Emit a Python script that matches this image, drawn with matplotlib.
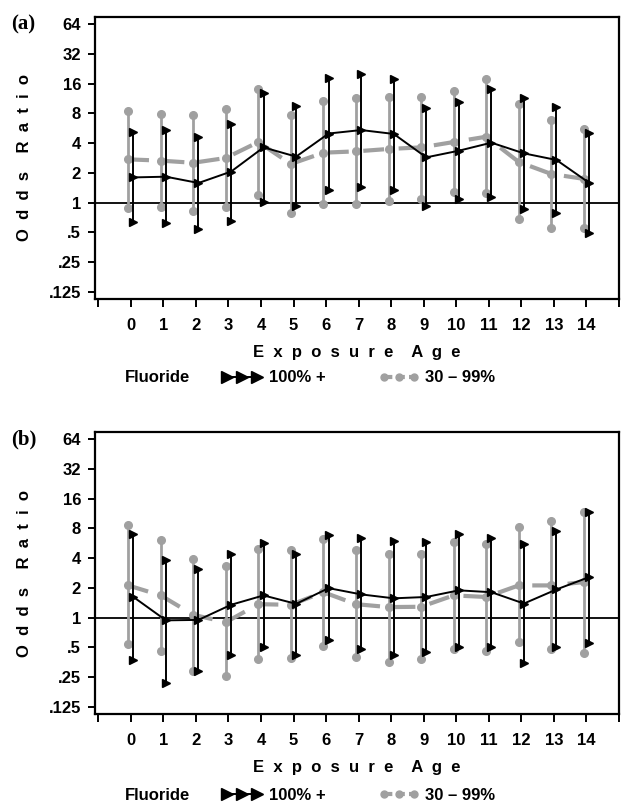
import numpy as np
import matplotlib.pyplot as plt
from matplotlib.lines import Line2D

plt.rcParams['font.family'] = ['Liberation Sans', 'DejaVu Sans']

ages = list(range(15))
ytick_vals = [0.125, 0.25, 0.5, 1, 2, 4, 8, 16, 32, 64]
ytick_labels = ['.125', '.25', '.5', '1', '2', '4', '8', '16', '32', '64']

# panel (a): 100%+ fluoride (black) and 30-99% (gray)
a_hi_or = [1.80, 1.83, 1.58, 2.06, 3.62, 2.92, 5.0, 5.42, 4.95, 2.87, 3.35, 4.04, 3.15, 2.7, 1.59]
a_hi_lo = [0.63, 0.62, 0.54, 0.66, 1.02, 0.92, 1.35, 1.45, 1.35, 0.93, 1.08, 1.13, 0.86, 0.79, 0.49]
a_hi_up = [5.2, 5.4, 4.64, 6.24, 12.9, 9.55, 18.2, 20.2, 17.6, 9.05, 10.3, 14.1, 11.4, 9.2, 5.1]
a_mid_or = [2.74, 2.66, 2.53, 2.83, 4.1, 2.46, 3.2, 3.3, 3.49, 3.62, 4.1, 4.64, 2.58, 1.95, 1.74]
a_mid_lo = [0.88, 0.9, 0.82, 0.9, 1.2, 0.79, 0.97, 0.97, 1.05, 1.08, 1.27, 1.26, 0.68, 0.56, 0.56]
a_mid_up = [8.5, 7.8, 7.7, 8.76, 14.2, 7.7, 10.7, 11.4, 11.8, 11.7, 13.5, 17.6, 9.9, 6.9, 5.55]

# panel (b)
b_hi_or = [1.62, 0.94, 0.95, 1.35, 1.68, 1.38, 1.99, 1.72, 1.57, 1.62, 1.89, 1.81, 1.39, 1.93, 2.57]
b_hi_lo = [0.37, 0.22, 0.29, 0.42, 0.50, 0.42, 0.59, 0.48, 0.42, 0.45, 0.50, 0.50, 0.35, 0.50, 0.56]
b_hi_up = [6.95, 3.8, 3.12, 4.43, 5.67, 4.43, 6.8, 6.43, 5.9, 5.8, 7.0, 6.43, 5.6, 7.5, 11.7]
b_mid_or = [2.12, 1.68, 1.07, 0.9, 1.37, 1.35, 1.81, 1.37, 1.28, 1.29, 1.68, 1.62, 2.12, 2.12, 2.29]
b_mid_lo = [0.54, 0.46, 0.29, 0.26, 0.38, 0.39, 0.52, 0.40, 0.36, 0.38, 0.48, 0.46, 0.57, 0.48, 0.44]
b_mid_up = [8.6, 6.1, 3.88, 3.32, 4.97, 4.82, 6.3, 4.78, 4.43, 4.43, 5.76, 5.54, 8.2, 9.4, 11.7]

GRAY = '#a0a0a0'


def spaced(text):
    # wide letter spacing like the original axis titles
    return '    '.join('  '.join(w) for w in text.split())


def draw_panel(ax, hi_or, hi_lo, hi_up, mid_or, mid_lo, mid_up):
    x = np.array(ages, dtype=float)
    xg = x - 0.08
    xb = x + 0.08
    ax.axhline(1, color='black', lw=1.3, zorder=1)
    # gray series
    ax.vlines(xg, mid_lo, mid_up, color=GRAY, lw=2, zorder=2)
    ax.plot(xg, mid_lo, 'o', color=GRAY, ms=5.5, zorder=3)
    ax.plot(xg, mid_up, 'o', color=GRAY, ms=5.5, zorder=3)
    ax.plot(xg, mid_or, '--o', color=GRAY, lw=3, ms=5.5, dashes=(5, 3.5), zorder=3)
    # black series
    ax.vlines(xb, hi_lo, hi_up, color='black', lw=1.4, zorder=4)
    ax.plot(xb, hi_lo, '>', color='black', ms=6, zorder=5)
    ax.plot(xb, hi_up, '>', color='black', ms=6, zorder=5)
    ax.plot(xb, hi_or, '->', color='black', lw=1.4, ms=6, zorder=5)

    ax.set_yscale('log', base=2)
    ax.set_ylim(2 ** -3.235, 2 ** 6.235)
    ax.set_yticks(ytick_vals)
    ax.set_yticklabels(ytick_labels)
    ax.minorticks_off()
    ax.set_xlim(-1.1, 15)
    ax.set_xticks(range(-1, 16))
    ax.set_xticklabels([''] + [str(a) for a in ages] + [''])
    for s in ax.spines.values():
        s.set_linewidth(1.6)
    ax.tick_params(axis='y', length=5, width=1.4, pad=5, labelsize=12)
    ax.tick_params(axis='x', length=6, width=1.4, pad=8, labelsize=12)
    for lab in ax.get_xticklabels() + ax.get_yticklabels():
        lab.set_fontweight('bold')
    ax.set_xlabel(spaced('Exposure Age'), fontsize=12, fontweight='bold', labelpad=8)
    ax.set_ylabel(spaced('Odds Ratio'), fontsize=12, fontweight='bold', labelpad=12)


fig = plt.figure(figsize=(6.22, 8.10), dpi=100)
ax1 = fig.add_axes([0.1527, 0.6309, 0.8424, 0.3481])
ax2 = fig.add_axes([0.1527, 0.1185, 0.8424, 0.3481])

draw_panel(ax1, a_hi_or, a_hi_lo, a_hi_up, a_mid_or, a_mid_lo, a_mid_up)
draw_panel(ax2, b_hi_or, b_hi_lo, b_hi_up, b_mid_or, b_mid_lo, b_mid_up)

for tag, ty in [('(a)', 1 - 24 / 810), ('(b)', 1 - 439 / 810)]:
    fig.text(11 / 622, ty, tag, fontsize=15, fontweight='bold',
             family='Liberation Serif', va='center', ha='left')

# legends below each panel
h_black = Line2D([], [], color='black', lw=1.4, marker='>', ms=9)
h_gray = Line2D([], [], color=GRAY, lw=3, ls='--', dashes=(2, 1), marker='o', ms=5)
for ly in [1 - 378 / 810, 1 - 795 / 810]:
    fig.text(125 / 622, ly, 'Fluoride', fontsize=12, fontweight='bold', va='center', ha='left')
    fig.legend([h_black, h_gray], ['100% +', '30 \u2013 99%'], ncol=2, frameon=False,
               loc='center left', bbox_to_anchor=(222 / 622, ly), numpoints=3,
               handlelength=2.4, handletextpad=0.4, columnspacing=3.2,
               prop={'size': 12, 'weight': 'bold'}, borderpad=0, borderaxespad=0)

fig.savefig('out.png', dpi=100)
